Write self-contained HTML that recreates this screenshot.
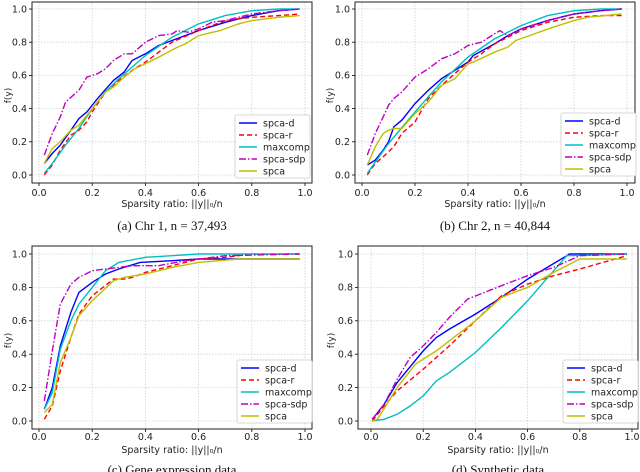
<!DOCTYPE html>
<html><head><meta charset="utf-8"><style>
html,body{margin:0;padding:0;background:#fff;}
svg{display:block;}
text{font-family:"DejaVu Sans","Liberation Sans",sans-serif;}
.cap{font-family:"Liberation Serif",serif;font-size:13px;}
</style></head><body>
<svg id="fig" width="640" height="472" viewBox="0 0 640 472" xmlns="http://www.w3.org/2000/svg"></svg>
<script>
const seriesNames = ["spca-d","spca-r","maxcomp","spca-sdp","spca"];
const xTicks = [0,0.2,0.4,0.6,0.8,1.0];
const yTicks = [0,0.2,0.4,0.6,0.8,1.0];
const xTickLabels = ["0.0","0.2","0.4","0.6","0.8","1.0"];
const yTickLabels = ["0.0","0.2","0.4","0.6","0.8","1.0"];
const captions = ["(a) Chr 1, n = 37,493","(b) Chr 2, n = 40,844","(c) Gene expression data","(d) Synthetic data"];

const aX = [0.02,0.05,0.08,0.12,0.15,0.18,0.22,0.28,0.32,0.35,0.4,0.45,0.5,0.6,0.7,0.8,0.9,0.98];
const aD = [0.07,0.13,0.18,0.27,0.34,0.38,0.46,0.57,0.62,0.69,0.73,0.78,0.81,0.87,0.92,0.96,0.99,1.0];
const aRX = [0.02,0.05,0.08,0.12,0.15,0.18,0.2,0.25,0.3,0.35,0.4,0.45,0.5,0.6,0.7,0.8,0.9,0.98];
const aR = [0.0,0.06,0.15,0.24,0.27,0.32,0.38,0.5,0.57,0.63,0.68,0.74,0.8,0.87,0.93,0.95,0.96,0.97];
const aMX = [0.02,0.05,0.1,0.15,0.2,0.25,0.3,0.35,0.4,0.5,0.6,0.7,0.8,0.9,0.98];
const aM = [0.01,0.07,0.18,0.28,0.4,0.5,0.58,0.65,0.72,0.83,0.91,0.96,0.99,1.0,1.0];
const aSX = [0.02,0.05,0.08,0.1,0.15,0.18,0.22,0.25,0.28,0.32,0.35,0.4,0.45,0.5,0.52,0.56,0.6,0.65,0.7,0.8,0.9,0.98];
const aS = [0.12,0.25,0.35,0.44,0.51,0.59,0.61,0.64,0.69,0.73,0.73,0.8,0.84,0.85,0.87,0.86,0.88,0.92,0.93,0.97,0.99,1.0];
const aPX = [0.02,0.05,0.08,0.12,0.15,0.2,0.25,0.28,0.32,0.36,0.4,0.45,0.52,0.55,0.6,0.68,0.75,0.8,0.9,0.98];
const aP = [0.07,0.16,0.2,0.27,0.3,0.4,0.5,0.53,0.59,0.64,0.67,0.71,0.77,0.79,0.84,0.87,0.91,0.93,0.95,0.96];

const bDX = [0.02,0.05,0.08,0.1,0.12,0.15,0.2,0.25,0.3,0.35,0.4,0.42,0.5,0.55,0.6,0.7,0.8,0.9,0.98];
const bD = [0.06,0.09,0.15,0.2,0.29,0.33,0.43,0.51,0.58,0.63,0.68,0.72,0.79,0.84,0.88,0.93,0.97,0.99,1.0];
const bRX = [0.02,0.05,0.08,0.12,0.15,0.2,0.25,0.3,0.35,0.4,0.45,0.5,0.6,0.7,0.8,0.9,0.98];
const bR = [0.0,0.07,0.11,0.17,0.25,0.32,0.46,0.54,0.61,0.68,0.73,0.79,0.87,0.92,0.95,0.96,0.96];
const bMX = [0.02,0.1,0.2,0.3,0.4,0.5,0.6,0.7,0.8,0.9,0.98];
const bM = [0.01,0.19,0.38,0.56,0.71,0.82,0.9,0.96,0.99,1.0,1.0];
const bSX = [0.02,0.05,0.08,0.1,0.12,0.15,0.2,0.25,0.3,0.35,0.4,0.45,0.5,0.52,0.55,0.6,0.7,0.8,0.9,0.98];
const bS = [0.12,0.25,0.35,0.42,0.46,0.5,0.59,0.64,0.7,0.73,0.78,0.8,0.85,0.87,0.84,0.88,0.93,0.97,0.99,1.0];
const bPX = [0.02,0.05,0.08,0.1,0.12,0.15,0.2,0.25,0.3,0.35,0.4,0.42,0.5,0.55,0.58,0.65,0.72,0.8,0.85,0.98];
const bP = [0.06,0.17,0.25,0.27,0.28,0.28,0.37,0.44,0.54,0.58,0.67,0.68,0.74,0.77,0.81,0.85,0.89,0.93,0.95,0.97];

const cDX = [0.02,0.05,0.08,0.12,0.15,0.2,0.25,0.3,0.38,0.5,0.6,0.8,0.98];
const cD = [0.07,0.2,0.45,0.65,0.77,0.83,0.88,0.91,0.95,0.96,0.97,0.97,0.97];
const cRX = [0.02,0.05,0.08,0.12,0.15,0.2,0.28,0.32,0.35,0.4,0.5,0.6,0.7,0.8,0.98];
const cR = [0.01,0.09,0.3,0.5,0.64,0.75,0.85,0.85,0.86,0.89,0.93,0.97,0.98,1.0,1.0];
const cMX = [0.02,0.05,0.08,0.12,0.15,0.2,0.25,0.3,0.4,0.5,0.6,0.98];
const cM = [0.07,0.17,0.43,0.6,0.7,0.8,0.9,0.95,0.98,0.99,1.0,1.0];
const cSX = [0.02,0.05,0.08,0.12,0.15,0.2,0.3,0.35,0.45,0.55,0.7,0.98];
const cS = [0.12,0.42,0.7,0.82,0.86,0.9,0.92,0.93,0.93,0.96,0.99,1.0];
const cPX = [0.02,0.05,0.08,0.12,0.15,0.2,0.28,0.32,0.4,0.5,0.6,0.75,0.98];
const cP = [0.05,0.1,0.35,0.5,0.63,0.72,0.84,0.86,0.88,0.92,0.95,0.97,0.97];

const dDX = [0.005,0.05,0.1,0.2,0.25,0.3,0.4,0.5,0.6,0.75,0.76,0.98];
const dD = [0.01,0.1,0.23,0.42,0.5,0.55,0.64,0.74,0.85,0.99,1.0,1.0];
const dRX = [0.005,0.05,0.1,0.2,0.3,0.4,0.5,0.6,0.7,0.8,0.98];
const dR = [0.0,0.09,0.18,0.31,0.45,0.6,0.75,0.82,0.87,0.91,0.99];
const dMX = [0.005,0.05,0.1,0.15,0.2,0.25,0.3,0.4,0.5,0.6,0.7,0.75,0.98];
const dM = [0.0,0.01,0.04,0.09,0.15,0.24,0.29,0.41,0.56,0.72,0.9,0.99,1.0];
const dSX = [0.005,0.05,0.1,0.15,0.2,0.25,0.3,0.37,0.5,0.6,0.7,0.8,0.98];
const dS = [0.01,0.1,0.25,0.38,0.45,0.53,0.62,0.73,0.81,0.87,0.92,0.99,1.0];
const dPX = [0.005,0.025,0.1,0.17,0.25,0.4,0.5,0.55,0.6,0.7,0.8,0.98];
const dP = [0.0,0.01,0.2,0.34,0.42,0.6,0.74,0.77,0.8,0.89,0.97,0.97];

const NS="http://www.w3.org/2000/svg";
const svg=document.getElementById('fig');
function mk(tag,attrs,parent){const e=document.createElementNS(NS,tag);for(const k in attrs)e.setAttribute(k,attrs[k]);(parent||svg).appendChild(e);return e;}
const styles=[
 {c:"#0000ff",d:""},{c:"#ff0000",d:"5,3"},{c:"#00bfbf",d:""},{c:"#bf00bf",d:"7,2,1.5,2"},{c:"#bfbf00",d:""}];
const panels=[
 {box:[32,2,312,183],x0:39,x1:305,y0:175,y1:9,ylab:8,leg:[235,115],xs:[aX,aRX,aMX,aSX,aPX],ys:[aD,aR,aM,aS,aP],capY:230,xlabY:196,sY:207},
 {box:[355,2,635,183],x0:362,x1:627,y0:175,y1:9,ylab:330,leg:[561,113],xs:[bDX,bRX,bMX,bSX,bPX],ys:[bD,bR,bM,bS,bP],capY:230,xlabY:196,sY:207},
 {box:[32,246,312,429],x0:39,x1:305,y0:421,y1:254,ylab:8,leg:[237,360],xs:[cDX,cRX,cMX,cSX,cPX],ys:[cD,cR,cM,cS,cP],capY:474,xlabY:440,sY:453},
 {box:[358,246,638,429],x0:371,x1:632,y0:421,y1:254,ylab:331,leg:[563,360],xs:[dDX,dRX,dMX,dSX,dPX],ys:[dD,dR,dM,dS,dP],capY:474,xlabY:440,sY:453}
];
panels.forEach((p,pi)=>{
 const g=mk('g',{});
 
 
 const sx=v=>p.x0+(p.x1-p.x0)*v, sy=v=>p.y0+(p.y1-p.y0)*v;
 const [L,T,R,B]=p.box;
 xTicks.forEach((t,i)=>{
  const gl=mk('line',{x1:sx(t),x2:sx(t),y1:T,y2:B,stroke:"#d0d0d0","stroke-width":0.8,"stroke-dasharray":"1.5,1.5"},g);
  
  
  mk('line',{x1:sx(t),x2:sx(t),y1:B,y2:B+3,stroke:"#000","stroke-width":0.8},g);
  const tx=mk('text',{x:sx(t),y:p.xlabY,"font-size":"9.5","text-anchor":"middle",fill:"#222"},g);
  tx.textContent=xTickLabels[i];
  
  
 });
 yTicks.forEach((t,i)=>{
  const gl=mk('line',{x1:L,x2:R,y1:sy(t),y2:sy(t),stroke:"#d0d0d0","stroke-width":0.8,"stroke-dasharray":"1.5,1.5"},g);
  
  
  mk('line',{x1:L-3,x2:L,y1:sy(t),y2:sy(t),stroke:"#000","stroke-width":0.8},g);
  const tx=mk('text',{x:L-5,y:sy(t)+3.3,"font-size":"9.5","text-anchor":"end",fill:"#222"},g);
  tx.textContent=yTickLabels[i];
  
  
 });
 p.xs.forEach((xa,si)=>{
  const ya=p.ys[si];
  const pts=xa.map((x,i)=>sx(x).toFixed(1)+","+sy(ya[i]).toFixed(1)).join(" ");
  const pl=mk('polyline',{points:pts,fill:"none",stroke:styles[si].c,"stroke-width":1.4,"stroke-dasharray":styles[si].d},g);
  
  
 });
 const fr=mk('rect',{x:L,y:T,width:R-L,height:B-T,fill:"none",stroke:"#222","stroke-width":1},g);
 
 
 const [lx,ly]=p.leg;
 const lg=mk('g',{},g);
 
 
 mk('rect',{x:lx,y:ly,width:75,height:63,fill:"#fff",stroke:"#ccc","stroke-width":0.8,rx:2},lg);
 seriesNames.forEach((n,si)=>{
  const yy=ly+8+si*12;
  const e=mk('g',{},lg);
  
  
  mk('line',{x1:lx+4,x2:lx+22,y1:yy,y2:yy,stroke:styles[si].c,"stroke-width":1.4,"stroke-dasharray":styles[si].d},e);
  const t=mk('text',{x:lx+28,y:yy+3.3,"font-size":"9.5",fill:"#222"},e);
  t.textContent=n;
 });
 const yl=mk('text',{x:p.ylab,y:(T+B)/2,"font-size":"9","text-anchor":"middle",transform:`rotate(-90 ${p.ylab+3} ${(T+B)/2})`,fill:"#222"},g);
 yl.textContent="f(y)";
 
 
 const xl=mk('text',{x:(L+R)/2,y:p.sY,"font-size":"9.5","text-anchor":"middle",fill:"#222"},g);
 xl.textContent="Sparsity ratio: ||y||₀/n";
 
 
 const cp=mk('text',{x:(L+R)/2,y:p.capY,"text-anchor":"middle",class:"cap",fill:"#111"},g);
 cp.textContent=captions[pi];
 
 
});
</script>
</body></html>
